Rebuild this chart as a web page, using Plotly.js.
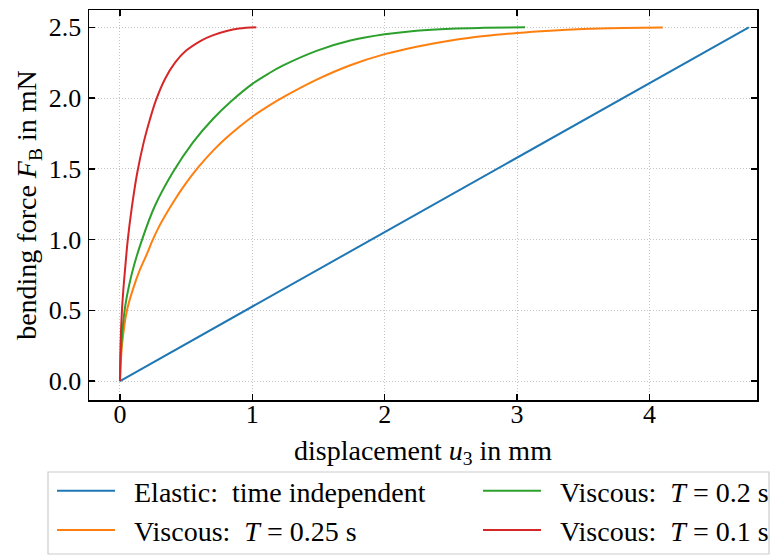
<!DOCTYPE html>
<html>
<head>
<meta charset="utf-8">
<script src="https://cdn.plot.ly/plotly-3.0.1.min.js"></script>
<style>html,body{margin:0;padding:0;background:#fff;}#chart{width:770px;height:555px;}</style>
</head>
<body>
<div id="chart"></div>
<script>
// Elastic: time independent
const elasticU = [0, 4.75];
const elasticF = [0, 2.5];

// Viscous: T = 0.25 s
const visc025U = [0, 0.015, 0.053, 0.1, 0.15, 0.207, 0.244, 0.3, 0.4, 0.5, 0.6, 0.7, 0.8, 0.9, 1.0, 1.126, 1.237, 1.49, 1.74, 2.0, 2.24, 2.5, 2.75, 3.0, 3.25, 3.5, 3.8, 4.1];
const visc025F = [0, 0.25, 0.5, 0.655, 0.785, 0.905, 0.99, 1.1, 1.26, 1.4, 1.52, 1.625, 1.715, 1.795, 1.868, 1.946, 2.008, 2.132, 2.232, 2.31, 2.363, 2.407, 2.438, 2.46, 2.476, 2.487, 2.494, 2.498];

// Viscous: T = 0.2 s
const visc020U = [0, 0.01, 0.035, 0.07, 0.11, 0.16, 0.26, 0.403, 0.55, 0.7, 0.844, 1.0, 1.126, 1.237, 1.49, 1.74, 2.0, 2.24, 2.5, 2.75, 3.06];
const visc020F = [0, 0.25, 0.5, 0.68, 0.83, 0.98, 1.23, 1.48, 1.685, 1.85, 1.98, 2.1, 2.175, 2.232, 2.335, 2.406, 2.45, 2.476, 2.49, 2.496, 2.5];

// Viscous: T = 0.1 s
const visc010U = [0, 0.004, 0.015, 0.03, 0.045, 0.058, 0.09, 0.13, 0.18, 0.225, 0.272, 0.34, 0.416, 0.5, 0.617, 0.7, 0.806, 0.9, 1.03];
const visc010F = [0, 0.25, 0.5, 0.7, 0.86, 0.99, 1.23, 1.47, 1.69, 1.845, 1.985, 2.135, 2.25, 2.335, 2.408, 2.443, 2.474, 2.491, 2.5];

const xTicks = [0, 1, 2, 3, 4];
const xTickText = ['0', '1', '2', '3', '4'];
const yTicks = [0, 0.5, 1.0, 1.5, 2.0, 2.5];
const yTickText = ['0.0', '0.5', '1.0', '1.5', '2.0', '2.5'];

const names = [
  'Elastic:  time independent',
  'Viscous:  <i>T</i> = 0.25 s',
  'Viscous:  <i>T</i> = 0.2 s',
  'Viscous:  <i>T</i> = 0.1 s'
];

const FONT = '"Liberation Serif", "Times New Roman", serif';
const fsTick = 26;
const fs = 28;
const PAD = '&nbsp;&nbsp;';

const traces = [
  {x: elasticU, y: elasticF, name: PAD + names[0], legend: 'legend', line: {color: '#1f77b4', width: 2}},
  {x: visc025U, y: visc025F, name: PAD + names[1], legend: 'legend', line: {color: '#ff7f0e', width: 2, shape: 'spline', smoothing: 1}},
  {x: visc020U, y: visc020F, name: PAD + names[2], legend: 'legend2', line: {color: '#2ca02c', width: 2, shape: 'spline', smoothing: 1}},
  {x: visc010U, y: visc010F, name: PAD + names[3], legend: 'legend2', line: {color: '#d62728', width: 2, shape: 'spline', smoothing: 1}}
].map(t => Object.assign({type: 'scatter', mode: 'lines', hoverinfo: 'skip'}, t));

const axisCommon = {
  showline: true, linecolor: '#000', linewidth: 1.5, mirror: 'ticks',
  ticks: 'inside', ticklen: 6, tickwidth: 1.5, tickcolor: '#000',
  showgrid: true, gridcolor: '#c4c4c4', gridwidth: 1, griddash: '1px,2px',
  zeroline: false, automargin: false,
  tickfont: {family: FONT, size: fsTick, color: '#000'}
};

const legendCommon = {
  orientation: 'v', xanchor: 'left', yanchor: 'top',
  bgcolor: 'rgba(0,0,0,0)', borderwidth: 0,
  font: {family: FONT, size: fs, color: '#000'},
  traceorder: 'normal', tracegroupgap: 0, itemwidth: 58
};

const layout = {
  width: 770, height: 555,
  margin: {l: 89, r: 13, t: 10, b: 155, autoexpand: false},
  paper_bgcolor: '#fff', plot_bgcolor: '#fff',
  font: {family: FONT, size: fs, color: '#000'},
  xaxis: Object.assign({}, axisCommon, {
    range: [-0.234, 4.812], tickmode: 'array', tickvals: xTicks, ticktext: xTickText,
    ticklabelstandoff: -10,
    title: {text: 'displacement <i>u</i><sub>3</sub> in mm', font: {family: FONT, size: fs}, standoff: 12}
  }),
  yaxis: Object.assign({}, axisCommon, {
    range: [-0.134, 2.622], tickmode: 'array', tickvals: yTicks, ticktext: yTickText,
    ticklabelstandoff: 1,
    title: {text: 'bending force <i>F</i><sub>B</sub> in mN', font: {family: FONT, size: fs}, standoff: 4}
  }),
  showlegend: true,
  legend: Object.assign({}, legendCommon, {x: (52 - 89) / 668, y: -66 / 390}),
  legend2: Object.assign({}, legendCommon, {x: (478 - 89) / 668, y: -66 / 390}),
  shapes: [{
    type: 'rect', xref: 'paper', yref: 'paper',
    x0: (48 - 89) / 668, x1: (769 - 89) / 668,
    y0: (400 - 554) / 390, y1: (400 - 472) / 390,
    line: {color: '#cccccc', width: 1.2}, fillcolor: 'rgba(0,0,0,0)', layer: 'below'
  }]
};

Plotly.newPlot('chart', traces, layout, {displayModeBar: false, staticPlot: true});
</script>
</body>
</html>
